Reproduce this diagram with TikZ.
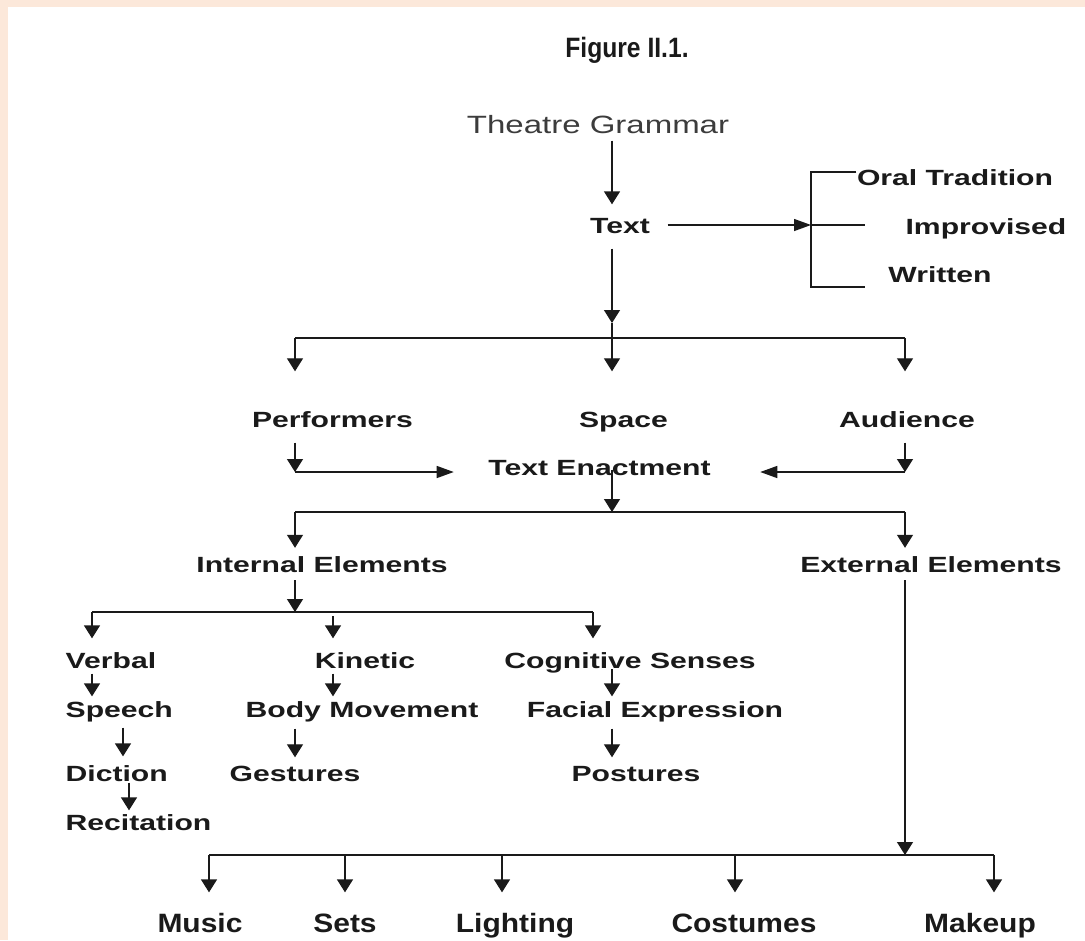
\documentclass[tikz,border=0pt]{standalone}
\usepackage{fontspec}
\setmainfont{Liberation Sans}
\newfontfamily\lblfont[FakeStretch=1.37]{Liberation Sans}
\newfontfamily\topfont[FakeStretch=1.32]{Liberation Sans}
\newfontfamily\botfont[FakeStretch=1.13]{Liberation Sans}
\newfontfamily\headfont[FakeStretch=0.88]{Liberation Sans}
\usetikzlibrary{arrows.meta}
\definecolor{peach}{HTML}{FCE8DA}
\definecolor{ink}{HTML}{1A1A1A}

\begin{document}
\begin{tikzpicture}[x=0.75pt,y=-0.75pt,
  color=ink, line width=1pt,
  lbl/.style={font=\lblfont\bfseries\fontsize{16.5pt}{18pt}\selectfont,
    inner sep=0pt, text height=12pt, text depth=0pt},
  toplbl/.style={font=\topfont\fontsize{18.75pt}{20pt}\selectfont, text=ink!85,
    inner sep=0pt, text height=13.5pt, text depth=0pt},
  botlbl/.style={font=\botfont\bfseries\fontsize{19.9pt}{22pt}\selectfont,
    inner sep=0pt, text height=14.25pt, text depth=0pt},
  titlelbl/.style={font=\headfont\bfseries\fontsize{21pt}{23pt}\selectfont,
    inner sep=0pt, text height=15pt, text depth=0pt},
  varr/.style={-{Triangle[width=12pt,length=9.75pt]}},
  harr/.style={-{Triangle[width=9pt,length=12.75pt]}}
]
% page and tinted margin strips
\useasboundingbox (0,0) rectangle (1085,940);
\fill[white] (0,0) rectangle (1085,940);
\fill[peach] (0,0) rectangle (1085,7);
\fill[peach] (0,0) rectangle (8,940);

% labels
\node[titlelbl] (title) at (627,47) {Figure II.1.};
\node[toplbl] (tg) at (598,124) {Theatre Grammar};
\node[lbl] (text) at (620,225) {Text};
\node[lbl] (oral) at (955,177.5) {Oral Tradition};
\node[lbl] (impr) at (986,226) {Improvised};
\node[lbl] (writ) at (940,274.5) {Written};
\node[lbl] (perf) at (332.5,419.5) {Performers};
\node[lbl] (space) at (623.5,419.5) {Space};
\node[lbl] (aud) at (907,419.5) {Audience};
\node[lbl] (te) at (599.5,467) {Text Enactment};
\node[lbl] (int) at (322,564) {Internal Elements};
\node[lbl] (ext) at (931,564) {External Elements};
\node[lbl,anchor=west] (verbal) at (65,660) {Verbal};
\node[lbl] (kin) at (365,660) {Kinetic};
\node[lbl] (cog) at (630,660) {Cognitive Senses};
\node[lbl,anchor=west] (speech) at (65,709.5) {Speech};
\node[lbl] (body) at (362,709.5) {Body Movement};
\node[lbl] (facial) at (655,709.5) {Facial Expression};
\node[lbl,anchor=west] (diction) at (65,773.5) {Diction};
\node[lbl] (gest) at (295,773.5) {Gestures};
\node[lbl] (post) at (636,773.5) {Postures};
\node[lbl,anchor=west] (recit) at (65,822) {Recitation};
\node[botlbl] (music) at (200,922.5) {Music};
\node[botlbl] (sets) at (345,922.5) {Sets};
\node[botlbl] (light) at (515,922.5) {Lighting};
\node[botlbl] (cost) at (744,922.5) {Costumes};
\node[botlbl] (make) at (980,922.5) {Makeup};

% junction points
\coordinate (brk) at (811,225);
\coordinate (brkT) at (811,172);
\coordinate (brkB) at (811,287);
\coordinate (brkE) at (865,225);
\coordinate (tS) at (612,323);
\coordinate (jS) at (612,338);
\coordinate (jL1) at (295,338);
\coordinate (jR1) at (905,338);
\coordinate (jPerf) at (295,472);
\coordinate (jAud) at (905,472);
\coordinate (jTE) at (612,512);
\coordinate (jL2) at (295,512);
\coordinate (jR2) at (905,512);
\coordinate (jInt) at (295,612);
\coordinate (jV) at (92,612);
\coordinate (jK) at (333,612);
\coordinate (jC) at (593,612);
\coordinate (cSD) at (123,0);
\coordinate (cDR) at (129,0);
\coordinate (jExt) at (905,855);
\coordinate (bM) at (209,855);
\coordinate (bS) at (345,855);
\coordinate (bL) at (502,855);
\coordinate (bC) at (735,855);
\coordinate (bK) at (994,855);

% theatre grammar and text
\draw[varr, shorten <=5.25pt, shorten >=9pt] (tg.south -| jS) -- (text.north -| jS);
\draw[harr, shorten <=12.75pt] (text.east) -- (brk);
\draw (oral.west |- brkT) -- (brkT) -- (brkB) -- (brkB -| brkE);
\draw (brk) -- (brkE);
\draw[varr, shorten <=11.25pt] (text.south -| jS) -- (tS);
\draw (tS) -- (jS);

% performers, space, audience
\draw (jL1) -- (jR1);
\draw[varr, shorten >=29.65pt] (jL1) -- (perf.north -| jL1);
\draw[varr, shorten >=29.65pt] (jS) -- (space.north -| jS);
\draw[varr, shorten >=29.65pt] (jR1) -- (aud.north -| jR1);
\draw[varr, shorten <=10.85pt] (perf.south -| jPerf) -- (jPerf);
\draw[harr, shorten >=25.5pt] (jPerf) -- (te.west |- jPerf);
\draw[varr, shorten <=10.85pt] (aud.south -| jAud) -- (jAud);
\draw[harr, shorten >=36.75pt] (jAud) -- (te.east |- jAud);

% text enactment split
\draw[varr, shorten <=2pt] (te -| jTE) -- (jTE);
\draw (jL2) -- (jR2);
\draw[varr, shorten >=5.65pt] (jL2) -- (int.north -| jL2);
\draw[varr, shorten >=5.65pt] (jR2) -- (ext.north -| jR2);

% internal elements
\draw[varr, shorten <=5.65pt] (int.south -| jInt) -- (jInt);
\draw (jV) -- (jC);
\draw[varr, shorten >=9.75pt] (jV) -- (verbal.north -| jV);
\draw[varr, shorten <=3pt, shorten >=9.75pt] (jK) -- (kin.north -| jK);
\draw[varr, shorten >=9.75pt] (jC) -- (cog.north -| jC);
\draw[varr, shorten <=3.75pt, shorten >=3.35pt] (verbal.south -| jV) -- (speech.north -| jV);
\draw[varr, shorten <=3.75pt, shorten >=3.35pt] (kin.south -| jK) -- (body.north -| jK);
\draw[varr, shorten <=0.25pt, shorten >=3.35pt] (cog.south -| jS) -- (facial.north -| jS);
\draw[varr, shorten <=7.15pt, shorten >=6.35pt] (speech.south -| cSD) -- (diction.north -| cSD);
\draw[varr, shorten <=7.85pt, shorten >=5.65pt] (body.south -| jInt) -- (gest.north -| jInt);
\draw[varr, shorten <=7.85pt, shorten >=5.65pt] (facial.south -| jS) -- (post.north -| jS);
\draw[varr, shorten <=0.35pt, shorten >=2.25pt] (diction.south -| cDR) -- (recit.north -| cDR);

% external elements
\draw[varr, shorten <=5.65pt] (ext.south -| jExt) -- (jExt);
\draw (bM) -- (bK);
\draw[varr, shorten >=15pt] (bM) -- (music.north -| bM);
\draw[varr, shorten >=15pt] (bS) -- (sets.north -| bS);
\draw[varr, shorten >=15pt] (bL) -- (light.north -| bL);
\draw[varr, shorten >=15pt] (bC) -- (cost.north -| bC);
\draw[varr, shorten >=15pt] (bK) -- (make.north -| bK);
\end{tikzpicture}
\end{document}
